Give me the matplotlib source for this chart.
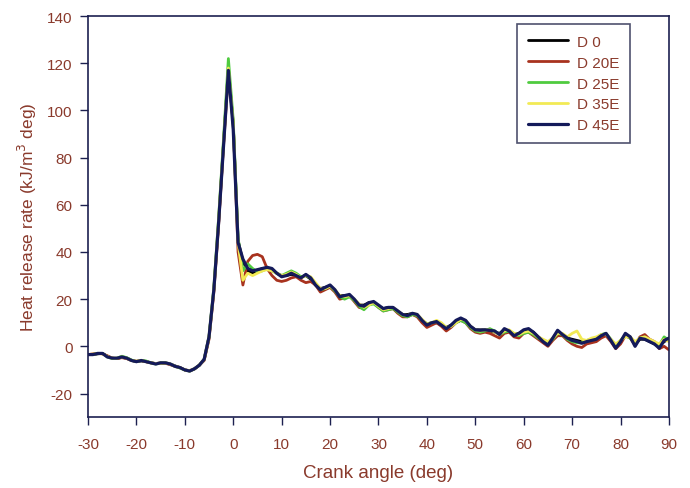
import numpy as np
import matplotlib.pyplot as plt

plt.rcParams['font.family'] = ['Liberation Sans', 'DejaVu Sans']
plt.rcParams['axes.unicode_minus'] = False

# crank angle, 1 deg steps from -30 to 90
angle = np.arange(-30, 91, 1)

d45e = [-3.5, -3.5, -3, -3, -4.5, -5, -5, -4.5, -5, -6,
        -6.5, -6, -6.5, -7, -7.5, -7, -7, -7.5, -8.5, -9,
        -10, -10.5, -9.5, -8, -5.5, 4, 24, 53, 85, 117,
        92, 44, 37, 33, 32, 32.5, 33, 33.5, 33, 31,
        29.5, 30, 31, 30, 29, 30.5, 29, 26, 24, 25,
        26, 24, 21, 21.5, 22, 20, 17.5, 17, 18.5, 19,
        17.5, 16, 16.5, 16.5, 15, 13.5, 13, 14, 13.5, 11,
        9, 10, 10.5, 9, 7.5, 9, 11, 12, 11, 8.5,
        7, 6.8, 7, 6.8, 6.5, 5, 7.5, 6.5, 4.5, 5.5,
        7, 7.5, 6, 4, 2, 0.5, 3.5, 6.8, 5, 3.5,
        2.5, 2, 1.3, 2, 2.5, 3, 4.5, 5.5, 2.5, -0.8,
        2, 5.5, 4, 0, 3.4, 3, 2, 1, -0.8, 2.5, 3.5]

d0 = [-3.5, -3.5, -3.2, -3, -4.2, -5, -5.2, -4.6, -5, -6,
      -6.5, -6.2, -6.5, -7, -7.3, -7.2, -7, -7.5, -8.3, -9,
      -10, -10.4, -9.6, -8, -5.5, 4, 24, 53, 86, 118,
      94, 45, 36, 32, 31, 32, 33, 33, 32.5, 31,
      30, 30, 30.5, 30, 29.5, 30, 28.5, 26, 24.5, 25,
      25.5, 23.5, 21.5, 21.5, 21.5, 19.5, 17.5, 17.5, 18.5, 18.5,
      17, 16, 16.5, 16, 14.5, 13.5, 13.5, 14, 13, 11,
      9.5, 10, 10, 9, 8, 9, 10.5, 11.5, 10.5, 8.5,
      7, 7, 7, 6.5, 6, 5.5, 7, 6.5, 5, 5.5,
      6.5, 7, 6, 4, 2.5, 1.5, 3.5, 6, 5, 3.5,
      3, 2.5, 2, 2, 2.5, 3.5, 4.5, 5, 2.5, 0,
      2, 5, 4, 1, 3, 3, 2, 1, 0, 2, 3]

d20e = [-3.5, -3.2, -3, -3.2, -4, -5, -5.2, -4.8, -5.2, -6,
        -6.3, -6, -6.5, -7, -7.3, -7, -7.2, -7.8, -8.5, -9,
        -10, -10.3, -9.5, -8, -6, 3, 23, 52, 85, 116,
        95, 40, 26, 36, 38.5, 39, 38, 33, 30, 28,
        27.5, 28, 29, 29.5, 28, 27, 27.5, 26, 23, 24,
        25, 23, 20, 20.5, 21.5, 19, 16.5, 16, 18, 18.5,
        16.5, 15, 15.5, 16, 14, 12.5, 12.5, 13.5, 12.5, 10,
        8, 9, 10, 8.5, 6.5, 8, 10, 11, 10, 7.5,
        6, 5.5, 6, 5.5, 4.5, 3.5, 5.5, 6, 4, 3.5,
        5.5, 6, 4.5, 3, 1.5, 0, 2.5, 4.5, 4.5, 2.5,
        1, 0, -0.5, 1, 1.5, 2, 3.5, 4.5, 2, -1,
        1, 4.5, 3.5, 0.5, 4, 5, 3, 2, -1, 0, -1.5]

d25e = [-3.5, -3.5, -3, -3, -4.5, -5.2, -5, -4.2, -4.8, -5.8,
        -6.5, -6, -6.2, -7, -7.5, -7, -7, -7.5, -8.5, -9.2,
        -10, -10.5, -9.5, -8, -5.5, 4, 25, 55, 88, 122,
        96, 46, 32, 35, 33, 31.5, 32, 33, 32, 31,
        30, 31, 32, 31, 29.5, 30, 29, 26.5, 24, 24.5,
        25.5, 23.5, 21, 20, 21, 19.5, 17, 15.5, 17.5, 18,
        16.5, 15, 15.5, 16, 14.5, 13, 12.5, 13.5, 13, 11,
        9.5, 10, 10.5, 9.5, 8, 8.5, 10, 11, 10, 8,
        6.5, 6, 6.5, 7.5, 6.5, 5, 6, 6.5, 5.5, 4.5,
        5.5, 6, 5, 3.5, 2.5, 1.5, 3, 5.5, 5, 3,
        2, 1.5, 1.5, 2.5, 3, 3.5, 5, 5.5, 3, 0.5,
        2.5, 4.5, 3.5, 1.5, 3.5, 4, 2.5, 1, 0.5, 4, 2.5]

d35e = [-3.5, -3.3, -3, -3.2, -4.3, -5, -5, -4.5, -5, -6,
        -6.3, -6, -6.5, -7, -7.3, -7.2, -7, -7.5, -8.5, -9,
        -10, -10.5, -9.5, -8, -5.5, 4, 24, 54, 86, 118,
        94, 44, 28, 31, 30, 31, 32, 32.5, 32, 31,
        30, 30.5, 31.5, 30.5, 29, 30, 29.5, 27, 24.5, 24.5,
        25.5, 24, 21.5, 21, 21.5, 20, 18, 16.5, 17.5, 18.5,
        17, 15.5, 16, 16.5, 15, 13.5, 13, 14, 13.5, 11.5,
        9.5, 10, 11, 10, 8, 8.5, 10, 11.5, 11, 8.5,
        7, 6.5, 7, 7, 6, 5, 6.5, 7, 5.5, 5,
        6, 6.5, 5.5, 4, 3, 2, 3.5, 5.5, 5.5, 4,
        5.5, 6.5, 3, 2.5, 3.5, 4, 5, 5, 3, 1,
        2.5, 4, 4, 2, 3.5, 4, 3, 2, 1, 3, 2]

series = [("D 0", d0, "#000000", 2.0),
          ("D 20E", d20e, "#a8321e", 2.0),
          ("D 25E", d25e, "#4fcb3f", 2.0),
          ("D 35E", d35e, "#f2ea55", 2.0),
          ("D 45E", d45e, "#141a5a", 2.3)]

brown = "#8a3a2c"
navy = "#1c2050"

fig = plt.figure(figsize=(6.9, 4.89), dpi=100)
ax = fig.add_axes([0.1275, 0.145, 0.842, 0.82])

for name, vals, col, lw in series:
    ax.plot(angle, vals, color=col, lw=lw, label=name,
            solid_joinstyle='round', solid_capstyle='round')

ax.set_xlim(-30, 90)
ax.set_ylim(-30, 140)
ax.set_xticks(np.arange(-30, 91, 10))
ax.set_yticks(np.arange(-20, 141, 20))
ax.tick_params(direction='out', length=6, width=1, color=navy,
               labelcolor=brown, labelsize=11, pad=5)
ax.tick_params(axis='x', pad=8)
for sp in ax.spines.values():
    sp.set_color(navy)
    sp.set_linewidth(1.2)

ax.set_xlabel("Crank angle (deg)", color=brown, fontsize=13.5, labelpad=10)
ax.set_ylabel("Heat release rate (kJ/m$^3$ deg)", color=brown, fontsize=12.5, labelpad=6)

leg = ax.legend(loc='upper right', bbox_to_anchor=(0.933, 0.98), borderaxespad=0,
                fontsize=11, frameon=True, fancybox=False, handlelength=2.6,
                labelspacing=0.45, borderpad=0.7, handletextpad=0.6)
leg.get_frame().set_edgecolor('#22264a')
leg.get_frame().set_linewidth(1.2)
for t in leg.get_texts():
    t.set_color(brown)

fig.savefig("out.png", dpi=100)
